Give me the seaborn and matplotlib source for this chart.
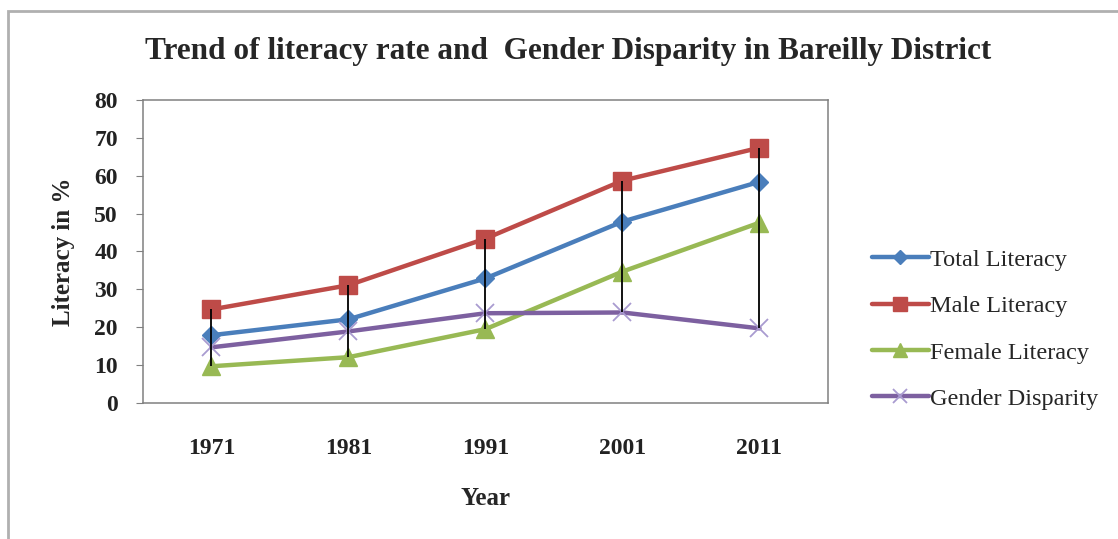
import pandas as pd
import numpy as np
import matplotlib
matplotlib.use("Agg")
import matplotlib.pyplot as plt
import seaborn as sns
from matplotlib.patches import Rectangle

# values
years = ["1971", "1981", "1991", "2001", "2011"]
total_literacy = [17.9, 22.1, 32.9, 47.9, 58.4]
male_literacy = [24.7, 31.1, 43.4, 58.7, 67.4]
female_literacy = [9.7, 12.1, 19.5, 34.7, 47.6]
gender_disparity = [14.7, 18.9, 23.7, 23.9, 19.7]

series_names = ["Total Literacy", "Male Literacy", "Female Literacy", "Gender Disparity"]
series_values = [total_literacy, male_literacy, female_literacy, gender_disparity]

sns.set_style("white")
plt.rcParams["font.family"] = ["Liberation Serif", "DejaVu Serif"]

colors = {"Total Literacy": "#4a7ebb", "Male Literacy": "#be4b48",
          "Female Literacy": "#98b954", "Gender Disparity": "#7d60a0"}
markers = {"Total Literacy": "D", "Male Literacy": "s",
           "Female Literacy": "^", "Gender Disparity": "x"}
msize = {"Total Literacy": 9, "Male Literacy": 13.5, "Female Literacy": 12.5, "Gender Disparity": 13}

fig = plt.figure(figsize=(11.18, 5.39), dpi=100)
ax = fig.add_axes([0.1279, 0.2523, 0.6127, 0.5622])

# outer chart frame
fig.patches.append(Rectangle((8 / 1118, -0.05), 1.2, 1 - 11 / 539 + 0.05,
                             transform=fig.transFigure, fill=False,
                             edgecolor="#b0b0b0", lw=2, zorder=0))

for name, vals in zip(series_names, series_values):
    d = pd.DataFrame({"Year": years, "Literacy": vals})
    edge = "#a99bd0" if name == "Gender Disparity" else colors[name]
    sns.lineplot(data=d, x="Year", y="Literacy", color=colors[name], marker=markers[name],
                 markersize=msize[name], markeredgecolor=edge,
                 markeredgewidth=1.3 if name == "Gender Disparity" else 1,
                 linewidth=3.2, label=name, ax=ax, sort=False)

# high-low lines
hi = np.max(series_values, axis=0)
lo = np.min(series_values, axis=0)
ax.vlines(range(len(years)), lo, hi, color="black", lw=1.3, zorder=5)

ax.set_xlim(-0.5, len(years) - 0.5)
ax.set_ylim(0, 80)
ax.set_yticks(range(0, 81, 10))

for s in ax.spines.values():
    s.set_visible(True)
    s.set_color("#808080")
    s.set_linewidth(1.1)

ax.tick_params(axis="y", left=True, length=5, color="#808080", labelsize=17, pad=13)
ax.tick_params(axis="x", bottom=False, labelsize=17, pad=22)
for lab in ax.get_xticklabels() + ax.get_yticklabels():
    lab.set_fontweight("bold")
    lab.set_color("#222222")

ax.set_xlabel("Year", fontsize=18, fontweight="bold", labelpad=20)
ax.set_ylabel("Literacy in %", fontsize=18, fontweight="bold", labelpad=14)

fig.text(0.508, 0.905, "Trend of literacy rate and  Gender Disparity in Bareilly District",
         ha="center", va="center", fontsize=22.5, fontweight="bold")

leg = ax.legend(loc="center left", bbox_to_anchor=(1.064, 0.243), frameon=False,
                fontsize=17.5, handlelength=2.35, handletextpad=0.05, labelspacing=1.0,
                borderaxespad=0, borderpad=0)
for h, name in zip(leg.legend_handles, series_names):
    h.set_markersize(msize[name] * 0.75)

fig.savefig("out.png", dpi=100, facecolor="white")
